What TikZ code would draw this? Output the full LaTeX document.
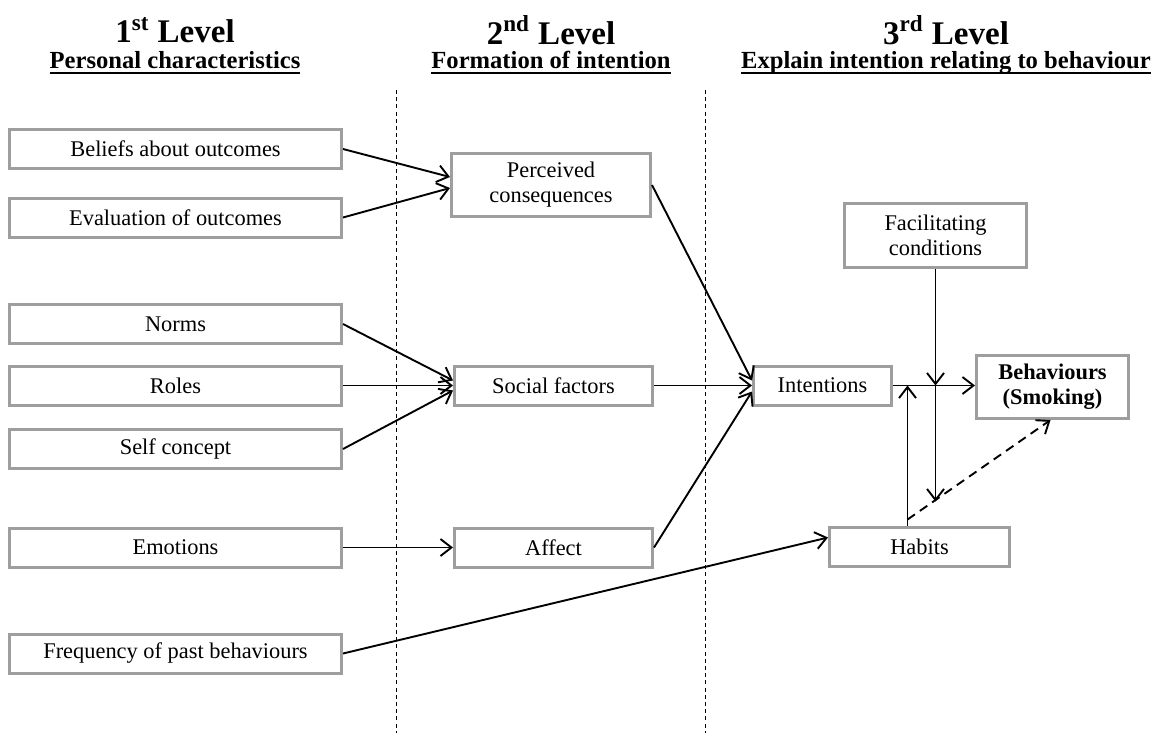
\documentclass[tikz,border=0pt]{standalone}
\usepackage{fontspec}
\setmainfont{Liberation Serif}
\usetikzlibrary{arrows.meta,positioning,calc}
% underline with a heavier rule, as in the headings
\newcommand{\headrule}[1]{\setbox0\hbox{#1}\rlap{\rule[-2.8pt]{\wd0}{1.1pt}}\box0}
\tikzset{
    factorbox/.style={
        rectangle,                % plain box
        draw=black!38,            % grey border
        line width=1.5pt,
        fill=white,
        minimum width=#1,
        minimum height=19.5pt,
        align=center,
        inner sep=2pt,
        font=\fontsize{11.2}{12.6}\selectfont
    },
    factorbox/.default=166pt,
    levelhead/.style={font=\fontsize{16.5}{18}\selectfont\bfseries},
    levelsub/.style={font=\fontsize{12.3}{14}\selectfont\bfseries},
    link/.style={-{Straight Barb[length=5.5pt,width=8.5pt]}, line width=0.95pt},
    divider/.style={line width=0.4pt, dash pattern=on 2pt off 1.6pt}
}
\begin{document}
\begin{tikzpicture}[x=0.5pt,y=-0.5pt]
    \useasboundingbox (0,0) rectangle (1159,733);

    % headings
    \node[levelhead] (head1) at (175,30) {1\textsuperscript{st} Level};
    \node[levelsub] (sub1) at (175,63) {\headrule{Personal characteristics}};
    \node[levelhead] (head2) at (551,30) {2\textsuperscript{nd} Level};
    \node[levelsub] (sub2) at (551,63) {\headrule{Formation of intention}};
    \node[levelhead] (head3) at (946,30) {3\textsuperscript{rd} Level};
    \node[levelsub] (sub3) at (946,63) {\headrule{Explain intention relating to behaviour}};

    % level dividers
    \draw[divider] (396,90) -- (396,733);
    \draw[divider] (705,90) -- (705,733);

    % 1st level
    \node[factorbox] (beliefs) at (175.5,149) {Beliefs about outcomes};
    \node[factorbox] (evaluation) at (175.5,217.5) {Evaluation of outcomes};
    \node[factorbox] (norms) at (175.5,324) {Norms};
    \node[factorbox] (roles) at (175.5,385.5) {Roles};
    \node[factorbox] (selfconcept) at (175.5,449) {Self concept};
    \node[factorbox] (emotions) at (175.5,547.5) {Emotions};
    \node[factorbox] (frequency) at (175.5,653.5) {Frequency of past behaviours};

    % 2nd level
    \node[factorbox=99.5pt, minimum height=31.5pt] (perceived) at (551,185) {Perceived\\consequences};
    \node[factorbox=99pt] (social) at (553.5,385.5) {Social factors};
    \node[factorbox=99pt] (affect) at (553.5,547.5) {Affect};

    % 3rd level
    \node[factorbox=69pt] (intentions) at (822.5,385.5) {Intentions};
    \node[factorbox=91pt, minimum height=32pt] (facilitating) at (935.5,235.5) {Facilitating\\conditions};
    \node[factorbox=76pt, minimum height=31.5pt] (behaviours) at (1052.5,387) {\textbf{Behaviours}\\\textbf{(Smoking)}};
    \node[factorbox=90pt] (habits) at (919.5,546.5) {Habits};

    % junction points
    \coordinate (fcjoin) at (facilitating.south |- intentions.east);
    \coordinate (fcdown) at ($(fcjoin)+(0,116)$);
    \coordinate (hbtop) at ($(habits.north)+(-12,0)$);
    \coordinate (hbjoin) at (hbtop |- intentions.east);

    \draw[link] (beliefs.east) -- ($(perceived.west)+(0,-8)$);
    \draw[link] (evaluation.east) -- ($(perceived.west)+(0,3)$);
    \draw[link] (norms.east) -- ($(social.west)+(0,-5)$);
    \draw[link] (roles.east) -- (social.west);
    \draw[link] (selfconcept.east) -- ($(social.west)+(0,5)$);
    \draw[link] (emotions.east) -- (affect.west);
    \draw[link] (frequency.east) -- ($(habits.west)+(0,-9)$);
    \draw[link] (perceived.east) -- ($(intentions.west)+(0,-5)$);
    \draw[link] (social.east) -- (intentions.west);
    \draw[link] (affect.east) -- ($(intentions.west)+(0,6)$);
    \draw[link] (intentions.east) -- (intentions.east -| behaviours.west);
    \draw[link] (facilitating.south) -- (fcjoin);
    \draw[link] (fcjoin) -- (fcdown);
    \draw[link] (hbtop) -- (hbjoin);
    \draw[link, dash pattern=on 4.5pt off 3pt] ($(hbtop)+(0,-6)$) -- ($(behaviours.south)+(-2,0)$);
\end{tikzpicture}
\end{document}
